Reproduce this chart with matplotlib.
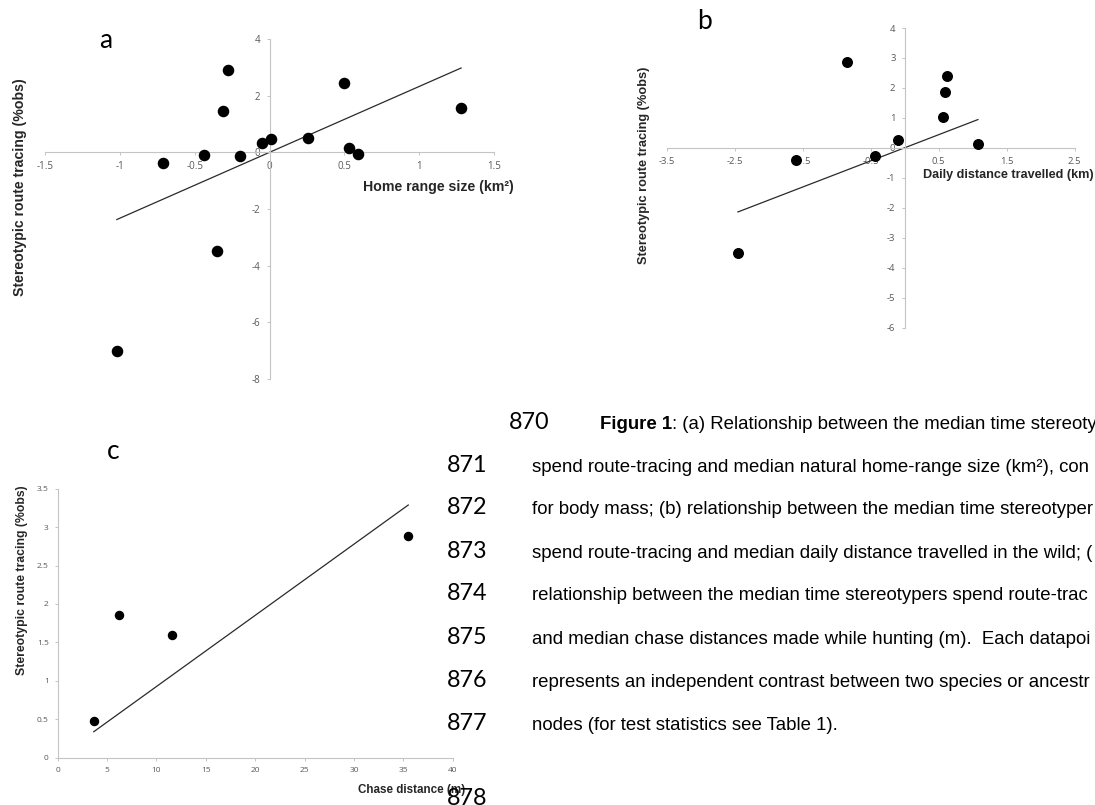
import matplotlib
matplotlib.use("Agg")
import matplotlib.pyplot as plt
from matplotlib.ticker import FuncFormatter
import numpy as np

W, H = 1095, 805

# (a) home range contrasts vs route tracing
home_range = [-1.02, -0.71, -0.44, -0.35, -0.31, -0.28, -0.20, -0.05, 0.01, 0.26, 0.50, 0.53, 0.59, 1.28]
route_a = [-7.0, -0.36, -0.10, -3.5, 1.47, 2.9, -0.14, 0.33, 0.46, 0.52, 2.44, 0.15, -0.05, 1.58]

# (b) daily distance contrasts vs route tracing
daily_dist = [-2.45, -1.59, -0.84, -0.44, -0.10, 0.56, 0.59, 0.625, 1.08]
route_b = [-3.5, -0.39, 2.88, -0.26, 0.27, 1.02, 1.87, 2.41, 0.13]

# (c) chase distance vs route tracing
chase_dist = [3.65, 6.2, 11.6, 35.5]
route_c = [0.48, 1.86, 1.59, 2.88]

ylabel = 'Stereotypic route tracing (%obs)'

line_numbers = ['871', '872', '873', '874', '875', '876', '877']
caption_lines = [
    'spend route-tracing and median natural home-range size (km\u00b2), con',
    'for body mass; (b) relationship between the median time stereotyper',
    'spend route-tracing and median daily distance travelled in the wild; (',
    'relationship between the median time stereotypers spend route-trac',
    'and median chase distances made while hunting (m).  Each datapoi',
    'represents an independent contrast between two species or ancestr',
    'nodes (for test statistics see Table 1).',
]
caption_head = 'Figure 1'
caption_first = ': (a) Relationship between the median time stereoty'

plt.rcParams['font.family'] = ['Open Sans', 'DejaVu Sans']
plt.rcParams['axes.unicode_minus'] = False


def fx(x):
    return x / W


def fy(y):
    return 1 - y / H


def make_axes(fig, x0, x1, y0, y1):
    # pixel box of the data range -> figure fraction
    return fig.add_axes([fx(x0), fy(y1), (x1 - x0) / W, (y1 - y0) / H])


def style(ax, fs, centered):
    for s in ['top', 'right']:
        ax.spines[s].set_visible(False)
    for s in ['left', 'bottom']:
        ax.spines[s].set_color('#c4c4c4')
        ax.spines[s].set_linewidth(0.8)
        if centered:
            ax.spines[s].set_position(('data', 0))
    ax.tick_params(length=2.5, width=0.7, color='#c4c4c4', labelsize=fs,
                   labelcolor='#595959', pad=4)
    fmt = FuncFormatter(lambda v, p: f'{v:g}')
    ax.xaxis.set_major_formatter(fmt)
    ax.yaxis.set_major_formatter(fmt)
    ax.patch.set_alpha(0)


def origin_fit(ax, x, y):
    # contrasts regression, forced through the origin
    x = np.asarray(x)
    y = np.asarray(y)
    slope = (x * y).sum() / (x * x).sum()
    xs = np.array([x.min(), x.max()])
    ax.plot(xs, slope * xs, color='#2a2a2a', lw=0.9, zorder=2)


fig = plt.figure(figsize=(W / 100, H / 100), dpi=100)

# panel a
ax = make_axes(fig, 45, 494, 39, 379)
ax.set_xlim(-1.5, 1.5)
ax.set_ylim(-8, 4)
ax.set_xticks(np.arange(-1.5, 1.6, 0.5))
ax.set_yticks(np.arange(-8, 5, 2))
style(ax, 7, True)
origin_fit(ax, home_range, route_a)
ax.plot(home_range, route_a, 'o', color='black', ms=7.3, zorder=3, clip_on=False)

# panel b
ax = make_axes(fig, 666.5, 1074.5, 28, 327.6)
ax.set_xlim(-3.5, 2.5)
ax.set_ylim(-6, 4)
ax.set_xticks(np.arange(-3.5, 3, 1))
ax.set_yticks(np.arange(-6, 5, 1))
style(ax, 6.8, True)
origin_fit(ax, daily_dist, route_b)
ax.plot(daily_dist, route_b, 'o', color='black', ms=6.9, zorder=3, clip_on=False)

# panel c
ax = make_axes(fig, 57.7, 452.7, 488.7, 757.7)
ax.set_xlim(0, 40)
ax.set_ylim(0, 3.5)
ax.set_xticks(np.arange(0, 41, 5))
ax.set_yticks(np.arange(0, 3.6, 0.5))
style(ax, 6, False)
origin_fit(ax, chase_dist, route_c)
ax.plot(chase_dist, route_c, 'o', color='black', ms=5.8, zorder=3, clip_on=False)

# axis titles, Excel style
bold = dict(family='Liberation Sans', weight='bold', color='#262626')
fig.text(fx(20), fy(187), ylabel, rotation=90, ha='center', va='center', fontsize=10.2, **bold)
fig.text(fx(363), fy(187), 'Home range size (km\u00b2)', ha='left', va='center', fontsize=10.2, **bold)
fig.text(fx(643.6), fy(165), ylabel, rotation=90, ha='center', va='center', fontsize=9.2, **bold)
fig.text(fx(922.7), fy(175), 'Daily distance travelled (km)', ha='left', va='center', fontsize=9.1, **bold)
fig.text(fx(21.7), fy(580), ylabel, rotation=90, ha='center', va='center', fontsize=8.8, **bold)
fig.text(fx(358), fy(790), 'Chase distance (m)', ha='left', va='center', fontsize=8.4, **bold)

# panel letters
for letter, (px, py) in zip(['a', 'b', 'c'], [(106, 40), (704.5, 21.5), (113.5, 451.5)]):
    fig.text(fx(px), fy(py), letter, ha='center', va='center', fontsize=19,
             family='Lato', color='black')

# manuscript line numbers and caption
num_font = dict(family='Lato', fontsize=16.8, color='black')
cap_font = dict(family='Liberation Sans', fontsize=13.4, color='black')
fig.text(fx(550), fy(428.5), '870', ha='right', va='baseline', **num_font)
head = fig.text(fx(600), fy(428.5), caption_head, ha='left', va='baseline',
                weight='bold', **cap_font)
renderer = fig.canvas.get_renderer()
bb = head.get_window_extent(renderer)
fig.text(bb.x1 / W, fy(428.5), caption_first, ha='left', va='baseline', **cap_font)

for i, (num, line) in enumerate(zip(line_numbers, caption_lines)):
    base = 471.5 + 43 * i
    fig.text(fx(487), fy(base), num, ha='right', va='baseline', **num_font)
    fig.text(fx(532), fy(base), line, ha='left', va='baseline', **cap_font)
fig.text(fx(487), fy(805), '878', ha='right', va='baseline', **num_font)

fig.savefig('out.png', dpi=100)
plt.close(fig)
